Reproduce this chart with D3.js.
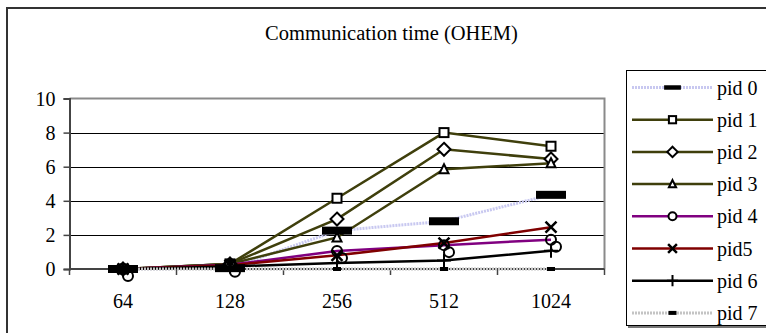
<!DOCTYPE html>
<html><head><meta charset="utf-8">
<script src="https://cdn.jsdelivr.net/npm/d3@7"></script>
<style>html,body{margin:0;padding:0;background:#fff;overflow:hidden}svg{display:block}</style>
</head><body>
<svg id="c" width="766" height="333"></svg>
<script>
const title = "Communication time (OHEM)";
const categories = ["64", "128", "256", "512", "1024"];
const yTicks = [0, 2, 4, 6, 8, 10];
const seriesNames = ["pid 0", "pid 1", "pid 2", "pid 3", "pid 4", "pid5", "pid 6", "pid 7"];
const pid0 = [0, 0.05, 2.25, 2.8, 4.35];
const pid1 = [0, 0.3, 4.15, 8.0, 7.2];
const pid2 = [0, 0.3, 2.93, 7.02, 6.45];
const pid3 = [0, 0.3, 1.85, 5.85, 6.2];
const pid4 = [0, 0.25, 1.05, 1.4, 1.72];
const pid5 = [0, 0.22, 0.8, 1.52, 2.45];
const pid6 = [0, 0.15, 0.35, 0.5, 1.07];
const pid7 = [0, 0, 0, 0, 0];
const seriesValues = [pid0, pid1, pid2, pid3, pid4, pid5, pid6, pid7];

const lineColors = ["#c8c8f0", "#3f3f0c", "#3f3f0c", "#3f3f0c", "#800080", "#800000", "#000000", "#c4c4c4"];
const lineWidths = [3, 2.5, 2.5, 2.5, 2.5, 2.5, 2.5, 3];
const markerTypes = ["dash", "square", "diamond", "triangle", "circle2", "x", "plus", "smalldash"];
const FONT = '"Liberation Serif", "Times New Roman", Tinos, serif';

const svg = d3.select("#c");
const W = 766, H = 333;

// outer frame
svg.append("rect").attr("x", 7).attr("y", 8).attr("width", W + 10).attr("height", H + 10)
  .attr("fill", "#fff").attr("stroke", "#333").attr("stroke-width", 2);

svg.append("text").attr("x", 391.5).attr("y", 39.5).attr("text-anchor", "middle")
  .attr("font-size", 20.5).attr("fill", "#000").style("font-family", FONT).text(title);

const pLeft = 69.5, pRight = 604.5, pTop = 98.5, pBottom = 269;
const x = d3.scaleBand().domain(categories).range([pLeft, pRight]).padding(0);
const y = d3.scaleLinear().domain([0, 10]).range([pBottom, pTop]);

// gridlines
svg.append("g").selectAll("line").data(yTicks.filter(v => v > 0 && v < 10)).join("line")
  .attr("x1", pLeft).attr("x2", pRight).attr("y1", d => Math.round(y(d)) + 0.5).attr("y2", d => Math.round(y(d)) + 0.5)
  .attr("stroke", "#000").attr("stroke-width", 1);

// plot border top/right
svg.append("path").attr("d", `M${pLeft},${pTop}H${pRight}V${pBottom}`).attr("fill", "none")
  .attr("stroke", "#8a8a8a").attr("stroke-width", 2);

// axes
const yAxis = d3.axisLeft(y).tickValues(yTicks).tickSize(6).tickPadding(8);
const gy = svg.append("g").attr("transform", `translate(${pLeft},0)`).call(yAxis);
gy.select(".domain").attr("stroke", "#444").attr("stroke-width", 2);
gy.selectAll(".tick line").attr("stroke", "#444").attr("stroke-width", 1.5);
gy.selectAll("text").attr("font-size", 20).attr("fill", "#000").attr("dy", "0.34em").style("font-family", FONT);

const bounds = categories.map(c => x(c)).concat([pRight]);
svg.append("line").attr("x1", pLeft).attr("x2", pRight).attr("y1", pBottom).attr("y2", pBottom)
  .attr("stroke", "#444").attr("stroke-width", 2);
svg.append("g").selectAll("line").data(bounds).join("line")
  .attr("x1", d => d).attr("x2", d => d).attr("y1", pBottom).attr("y2", pBottom + 6)
  .attr("stroke", "#444").attr("stroke-width", 1.5);
svg.append("g").selectAll("text").data(categories).join("text")
  .attr("x", d => x(d) + x.bandwidth() / 2).attr("y", 307.5).attr("text-anchor", "middle")
  .attr("font-size", 20).attr("fill", "#000").style("font-family", FONT).text(d => d);

// lines
const line = d3.line().x((d, i) => x(categories[i]) + x.bandwidth() / 2).y(d => y(d));
seriesValues.forEach((vals, s) => {
  svg.append("path").datum(vals).attr("d", line).attr("fill", "none")
    .attr("stroke", lineColors[s]).attr("stroke-width", lineWidths[s])
    .attr("stroke-dasharray", (s === 0 || s === 7) ? "2,1" : null);
});

function drawMarker(g, type, cx, cy, k) {
  const st = { stroke: "#000", "stroke-width": 2, fill: "#fff" };
  const app = (el, attrs) => { const e = g.append(el); Object.entries(attrs).forEach(([a, v]) => e.attr(a, v)); return e; };
  if (type === "dash") {
    app("rect", { x: cx - 15 * k, y: cy - 4 * k, width: 30 * k, height: 8 * k, fill: "#000" });
  } else if (type === "smalldash") {
    app("rect", { x: cx - 4, y: cy - 2, width: 8, height: 4, fill: "#000" });
  } else if (type === "square") {
    const h = 4.5 * k;
    app("rect", Object.assign({ x: cx - h, y: cy - h, width: 2 * h, height: 2 * h }, st));
  } else if (type === "diamond") {
    const h = 6.5 * k;
    app("path", Object.assign({ d: `M${cx},${cy - h}L${cx + h},${cy}L${cx},${cy + h}L${cx - h},${cy}Z` }, st));
  } else if (type === "triangle") {
    app("path", Object.assign({ d: `M${cx},${cy - 5 * k}L${cx + 4.5 * k},${cy + 4 * k}L${cx - 4.5 * k},${cy + 4 * k}Z` }, st));
  } else if (type === "circle" || type === "circle2") {
    if (type === "circle2") app("circle", { cx: cx + 5, cy: cy + 7, r: 5, fill: "none", stroke: "#000", "stroke-width": 2 });
    app("circle", Object.assign({ cx: cx, cy: cy, r: 5 * k }, st, type === "circle2" ? { fill: "none" } : {}));
  } else if (type === "x") {
    const h = 5.5 * k;
    app("path", { d: `M${cx - h},${cy - h}L${cx + h},${cy + h}M${cx + h},${cy - h}L${cx - h},${cy + h}`, stroke: "#000", "stroke-width": 2.5, fill: "none" });
  } else if (type === "plus") {
    const h = 7 * k;
    app("path", { d: `M${cx - h},${cy}H${cx + h}M${cx},${cy - h}V${cy + h}`, stroke: "#000", "stroke-width": 2, fill: "none" });
  }
}

// markers
seriesValues.forEach((vals, s) => {
  const g = svg.append("g");
  vals.forEach((v, i) => drawMarker(g, markerTypes[s], x(categories[i]) + x.bandwidth() / 2, y(v), 1));
});

// legend
svg.append("rect").attr("x", 628).attr("y", 72).attr("width", 160).attr("height", 256).attr("fill", "#777");
svg.append("rect").attr("x", 626.5).attr("y", 70.5).attr("width", 160).attr("height", 255)
  .attr("fill", "#fff").attr("stroke", "#000").attr("stroke-width", 1);
seriesNames.forEach((name, s) => {
  const cy = 87.5 + s * 32.2;
  const g = svg.append("g");
  g.append("line").attr("x1", 632).attr("x2", 713).attr("y1", cy).attr("y2", cy)
    .attr("stroke", lineColors[s]).attr("stroke-width", lineWidths[s])
    .attr("stroke-dasharray", (s === 0 || s === 7) ? "2,1" : null);
  const mt = markerTypes[s] === "circle2" ? "circle" : markerTypes[s];
  drawMarker(g, mt, 672.5, cy, mt === "dash" ? 0.56 : 0.8);
  g.append("text").attr("x", 717).attr("y", cy + 7).attr("font-size", 20).attr("fill", "#000")
    .style("font-family", FONT).text(name);
});
</script>
</body></html>
